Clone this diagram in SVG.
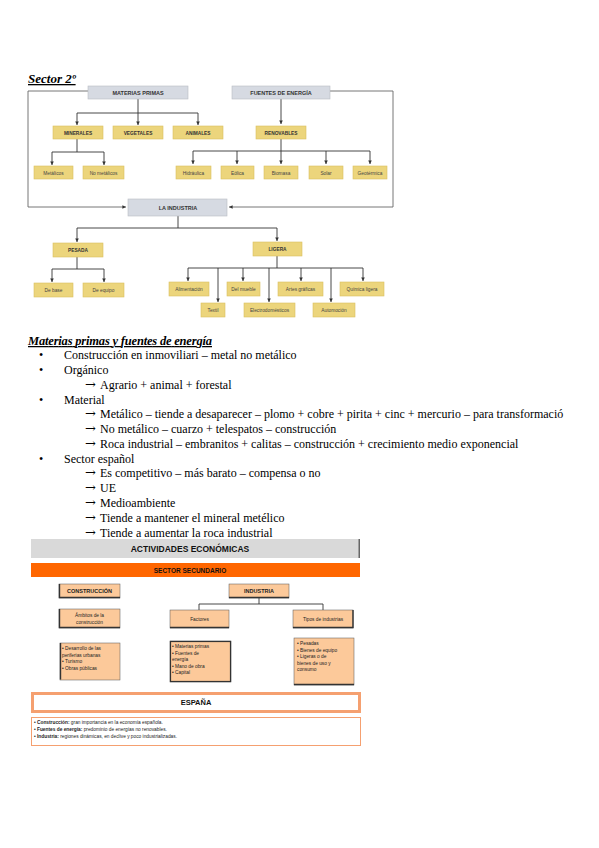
<svg xmlns="http://www.w3.org/2000/svg" width="599" height="848" viewBox="0 0 599 848">
<style>
.bg{fill:#ffffff}
.g{fill:#d6dae2;stroke:#b8bcc4;stroke-width:0.6}
.y{fill:#ecd57c;stroke:#d9c060;stroke-width:0.6}
.lt{font-family:"Liberation Sans",Arial,sans-serif;font-weight:bold;fill:#333;text-anchor:middle}
.ln{font-family:"Liberation Sans",Arial,sans-serif;fill:#444;text-anchor:middle}
.c{fill:none;stroke:#333;stroke-width:0.9}
.c2{fill:none;stroke:#666;stroke-width:0.9}
.h{font-family:"Liberation Serif","Times New Roman",serif;font-weight:bold;font-style:italic;text-decoration:underline;fill:#000}
.t{font-family:"Liberation Serif","Times New Roman",serif;font-size:12px;fill:#000}
.ar{font-family:"DejaVu Serif",serif;font-size:13px}
.p{fill:#fcc99a;stroke:#555;stroke-width:0.5}
.ps{fill:none;stroke:#333;stroke-width:1.4}
.bt{font-family:"Liberation Sans",Arial,sans-serif;fill:#222}
</style>
<defs>
<marker id="a" viewBox="0 0 6 6" refX="6" refY="3" markerWidth="4" markerHeight="4" orient="auto"><path d="M0,0 L6,3 L0,6 z" fill="#333"/></marker>
</defs>
<rect class="bg" x="0" y="0" width="599" height="848"/>

<text class="h" x="28" y="83" font-size="13">Sector 2º</text>

<g id="connectors">
<path class="c2" d="M88,91 H28 V207 H126" marker-end="url(#a)"/>
<path class="c2" d="M330,91 H393 V207 H229" marker-end="url(#a)"/>
<path class="c" d="M138,99 V113"/>
<path class="c" d="M77,113 H198"/>
<path class="c" d="M77,113 V125" marker-end="url(#a)"/>
<path class="c" d="M138,113 V125" marker-end="url(#a)"/>
<path class="c" d="M198,113 V125" marker-end="url(#a)"/>
<path class="c" d="M77,139 V152 M52,152 H104"/>
<path class="c" d="M52,152 V165" marker-end="url(#a)"/>
<path class="c" d="M104,152 V165" marker-end="url(#a)"/>
<path class="c" d="M281,99 V124" marker-end="url(#a)"/>
<path class="c" d="M281,139 V151 M193,151 H370"/>
<path class="c" d="M193,151 V164" marker-end="url(#a)"/>
<path class="c" d="M237,151 V164" marker-end="url(#a)"/>
<path class="c" d="M281,151 V164" marker-end="url(#a)"/>
<path class="c" d="M326,151 V164" marker-end="url(#a)"/>
<path class="c" d="M370,151 V164" marker-end="url(#a)"/>
<path class="c" d="M178,216 V228 M77,228 H277"/>
<path class="c" d="M77,228 V242" marker-end="url(#a)"/>
<path class="c" d="M277,228 V241" marker-end="url(#a)"/>
<path class="c" d="M77,257 V269 M52,269 H104"/>
<path class="c" d="M52,269 V282" marker-end="url(#a)"/>
<path class="c" d="M104,269 V282" marker-end="url(#a)"/>
<path class="c" d="M277,256 V268 M188,268 H363"/>
<path class="c" d="M188,268 V281" marker-end="url(#a)"/>
<path class="c" d="M218,268 V302" marker-end="url(#a)"/>
<path class="c" d="M243,268 V281" marker-end="url(#a)"/>
<path class="c" d="M269,268 V302" marker-end="url(#a)"/>
<path class="c" d="M301,268 V281" marker-end="url(#a)"/>
<path class="c" d="M331,268 V302" marker-end="url(#a)"/>
<path class="c" d="M363,268 V281" marker-end="url(#a)"/>
<path class="c" d="M259,598 V604 M199,604 H323 M199,604 V610 M323,604 V610"/>
</g>

<g id="materias-primas"><rect class="g" x="88" y="86" width="100" height="13"/><text class="lt" x="138" y="94.5" font-size="5.5">MATERIAS PRIMAS</text></g>
<g id="fuentes-energia"><rect class="g" x="232" y="86" width="98" height="13"/><text class="lt" x="281" y="94.5" font-size="5.5">FUENTES DE ENERGÍA</text></g>
<g id="minerales"><rect class="y" x="53" y="126" width="50" height="13"/><text class="lt" x="78" y="134.5" font-size="4.8">MINERALES</text></g>
<g id="vegetales"><rect class="y" x="113" y="126" width="50" height="13"/><text class="lt" x="138" y="134.5" font-size="4.8">VEGETALES</text></g>
<g id="animales"><rect class="y" x="173" y="126" width="50" height="13"/><text class="lt" x="198" y="134.5" font-size="4.8">ANIMALES</text></g>
<g id="metalicos"><rect class="y" x="34" y="166" width="39" height="13"/><text class="ln" x="53.5" y="174.5" font-size="4.8">Metálicos</text></g>
<g id="no-metalicos"><rect class="y" x="83" y="166" width="41" height="13"/><text class="ln" x="103.5" y="174.5" font-size="4.8">No metálicos</text></g>
<g id="renovables"><rect class="y" x="256" y="126" width="50" height="13"/><text class="lt" x="281" y="134.5" font-size="4.8">RENOVABLES</text></g>
<g id="hidraulica"><rect class="y" x="176" y="166" width="35" height="13"/><text class="ln" x="193.5" y="174.5" font-size="4.8">Hidráulica</text></g>
<g id="eolica"><rect class="y" x="221" y="166" width="33" height="13"/><text class="ln" x="237.5" y="174.5" font-size="4.8">Eólica</text></g>
<g id="biomasa"><rect class="y" x="264" y="166" width="34" height="13"/><text class="ln" x="281" y="174.5" font-size="4.8">Biomasa</text></g>
<g id="solar"><rect class="y" x="309" y="166" width="34" height="13"/><text class="ln" x="326" y="174.5" font-size="4.8">Solar</text></g>
<g id="geotermica"><rect class="y" x="353" y="166" width="34" height="13"/><text class="ln" x="370" y="174.5" font-size="4.8">Geotérmica</text></g>
<g id="la-industria"><rect class="g" x="128" y="199" width="99" height="17"/><text class="lt" x="178" y="209.5" font-size="5.5">LA INDUSTRIA</text></g>
<g id="pesada"><rect class="y" x="53" y="243" width="50" height="14"/><text class="lt" x="78" y="251.5" font-size="4.8">PESADA</text></g>
<g id="ligera"><rect class="y" x="253" y="242" width="49" height="14"/><text class="lt" x="277.5" y="250.5" font-size="4.8">LIGERA</text></g>
<g id="de-base"><rect class="y" x="34" y="283" width="39" height="14"/><text class="ln" x="53.5" y="291.5" font-size="4.8">De base</text></g>
<g id="de-equipo"><rect class="y" x="83" y="283" width="41" height="14"/><text class="ln" x="103.5" y="291.5" font-size="4.8">De equipo</text></g>
<g id="alimentacion"><rect class="y" x="169" y="282" width="40" height="14"/><text class="ln" x="189" y="290.5" font-size="4.8">Alimentación</text></g>
<g id="del-mueble"><rect class="y" x="227" y="282" width="33" height="14"/><text class="ln" x="243.5" y="290.5" font-size="4.8">Del mueble</text></g>
<g id="artes-graficas"><rect class="y" x="278" y="282" width="45" height="14"/><text class="ln" x="300.5" y="290.5" font-size="4.8">Artes gráficas</text></g>
<g id="quimica-ligera"><rect class="y" x="340" y="282" width="44" height="14"/><text class="ln" x="362" y="290.5" font-size="4.8">Química ligera</text></g>
<g id="textil"><rect class="y" x="201" y="303" width="24" height="14"/><text class="ln" x="213" y="311.5" font-size="4.8">Textil</text></g>
<g id="electrodomesticos"><rect class="y" x="244" y="303" width="51" height="14"/><text class="ln" x="269.5" y="311.5" font-size="4.8">Electrodomésticos</text></g>
<g id="automocion"><rect class="y" x="313" y="303" width="42" height="14"/><text class="ln" x="334" y="311.5" font-size="4.8">Automoción</text></g>

<text class="h" x="28" y="345" font-size="12.5" textLength="184">Materias primas y fuentes de energía</text>
<g class="t">
<text x="39" y="359">•</text><text x="64" y="359">Construcción en inmoviliari – metal no metálico</text>
<text x="39" y="374">•</text><text x="64" y="374">Orgánico</text>
<text class="ar" x="85" y="389">→</text><text x="100" y="389">Agrario + animal + forestal</text>
<text x="39" y="404">•</text><text x="64" y="404">Material</text>
<text class="ar" x="85" y="418">→</text><text x="100" y="418">Metálico – tiende a desaparecer – plomo + cobre + pirita + cinc + mercurio – para transformació</text>
<text class="ar" x="85" y="433">→</text><text x="100" y="433">No metálico – cuarzo + telespatos – construcción</text>
<text class="ar" x="85" y="448">→</text><text x="100" y="448">Roca industrial – embranitos + calitas – construcción + crecimiento medio exponencial</text>
<text x="39" y="463">•</text><text x="64" y="463">Sector español</text>
<text class="ar" x="85" y="477">→</text><text x="100" y="477">Es competitivo – más barato – compensa o no</text>
<text class="ar" x="85" y="492">→</text><text x="100" y="492">UE</text>
<text class="ar" x="85" y="507">→</text><text x="100" y="507">Medioambiente</text>
<text class="ar" x="85" y="522">→</text><text x="100" y="522">Tiende a mantener el mineral metélico</text>
<text class="ar" x="85" y="537">→</text><text x="100" y="537">Tiende a aumentar la roca industrial</text>
</g>

<g id="actividades"><rect x="31" y="539" width="329" height="19" fill="#d9d9d9"/><rect x="358.5" y="539" width="1.5" height="19" fill="#666"/><text class="lt" x="190" y="551.5" font-size="8.5" style="fill:#111">ACTIVIDADES ECONÓMICAS</text></g>
<g id="sector-secundario"><rect x="31" y="563" width="329" height="14" fill="#ff6600"/><text class="lt" x="190" y="572.5" font-size="6.5" style="fill:#111">SECTOR SECUNDARIO</text></g>
<g id="construccion"><rect class="p" x="59" y="584" width="61" height="14"/><path class="ps" d="M59.5,584 V597.5 H120"/><text class="bt" x="89.5" y="593" font-size="5.5" font-weight="bold" text-anchor="middle">CONSTRUCCIÓN</text></g>
<g id="industria"><rect class="p" x="229" y="584" width="60" height="14"/><path class="ps" d="M229,597.5 H289"/><text class="bt" x="259" y="593" font-size="5.5" font-weight="bold" text-anchor="middle">INDUSTRIA</text></g>
<g id="ambitos"><rect class="p" x="59" y="609" width="61" height="19"/><path class="ps" d="M59.5,609 V627.5 H120"/><text class="bt" x="89.5" y="617" font-size="4.8" text-anchor="middle">Ámbitos de la</text><text class="bt" x="89.5" y="623.5" font-size="4.8" text-anchor="middle">construcción</text></g>
<g id="factores"><rect class="p" x="170" y="610" width="59" height="18"/><path class="ps" d="M170,627.5 H229"/><text class="bt" x="199.5" y="620.5" font-size="4.8" text-anchor="middle">Factores</text></g>
<g id="tipos"><rect class="p" x="293" y="610" width="60" height="18"/><path class="ps" d="M293,627.5 H353 V610"/><text class="bt" x="323" y="620.5" font-size="4.8" text-anchor="middle">Tipos de industrias</text></g>
<g id="construccion-lista"><rect class="p" x="60" y="643" width="60" height="37"/><path class="ps" d="M60.5,643 V679.5"/>
<text class="bt" x="62" y="650" font-size="4.8">• Desarrollo de las</text><text class="bt" x="62" y="656.5" font-size="4.8">periferias urbanas</text><text class="bt" x="62" y="663" font-size="4.8">• Turismo</text><text class="bt" x="62" y="669.5" font-size="4.8">• Obras públicas</text></g>
<g id="factores-lista"><rect class="p" x="170" y="641" width="61" height="41"/><rect x="170.5" y="641.5" width="60" height="40" fill="none" stroke="#333" stroke-width="1.2"/>
<text class="bt" x="172" y="648" font-size="4.8">• Materias primas</text><text class="bt" x="172" y="654.5" font-size="4.8">• Fuentes de</text><text class="bt" x="172" y="661" font-size="4.8">energía</text><text class="bt" x="172" y="667.5" font-size="4.8">• Mano de obra</text><text class="bt" x="172" y="674" font-size="4.8">• Capital</text></g>
<g id="tipos-lista"><rect class="p" x="294" y="638" width="60" height="47"/><path class="ps" d="M294,684.5 H354"/>
<text class="bt" x="297" y="645" font-size="4.8">• Pesadas</text><text class="bt" x="297" y="651.5" font-size="4.8">• Bienes de equipo</text><text class="bt" x="297" y="658" font-size="4.8">• Ligeras o de</text><text class="bt" x="297" y="664.5" font-size="4.8">bienes de uso y</text><text class="bt" x="297" y="671" font-size="4.8">consumo</text></g>
<g id="espana"><rect x="32.5" y="693.5" width="327" height="18" fill="#fff" stroke="#f5a070" stroke-width="3"/><text class="lt" x="196" y="705" font-size="7.5" style="fill:#111">ESPAÑA</text></g>
<g id="resumen"><rect x="31.5" y="717.5" width="329" height="28" fill="#fff" stroke="#f5a070" stroke-width="1"/>
<text class="bt" x="34" y="724" font-size="4.8"><tspan font-weight="bold">• Construcción:</tspan> gran importancia en la economía española.</text>
<text class="bt" x="34" y="731" font-size="4.8"><tspan font-weight="bold">• Fuentes de energía:</tspan> predominio de energías no renovables.</text>
<text class="bt" x="34" y="738" font-size="4.8"><tspan font-weight="bold">• Industria:</tspan> regiones dinámicas, en declive y poco industrializadas.</text></g>
</svg>
